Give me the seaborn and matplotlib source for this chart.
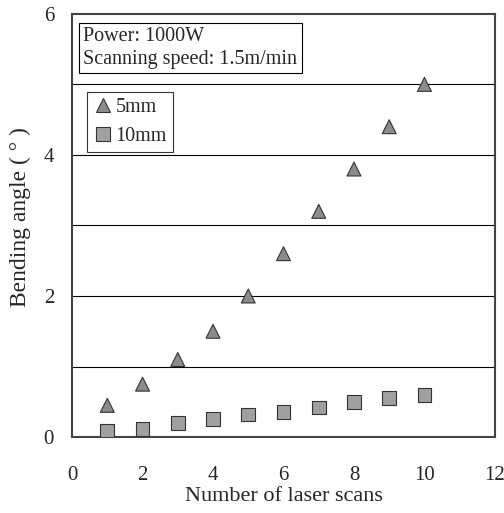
import pandas as pd
import matplotlib
matplotlib.use('Agg')
import matplotlib.pyplot as plt
import seaborn as sns

# values
scans = [1, 2, 3, 4, 5, 6, 7, 8, 9, 10]
angle_5mm = [0.45, 0.75, 1.1, 1.5, 2.0, 2.6, 3.2, 3.8, 4.4, 5.0]
angle_10mm = [0.08, 0.12, 0.2, 0.25, 0.32, 0.35, 0.42, 0.5, 0.55, 0.6]
x_ticks = [0, 2, 4, 6, 8, 10, 12]
y_ticks = [0, 2, 4, 6]

df = pd.DataFrame({
    'scans': scans * 2,
    'angle': angle_5mm + angle_10mm,
    'width': ['5mm'] * len(scans) + ['10mm'] * len(scans),
})

sns.set_style('white')
plt.rcParams['font.family'] = ['Liberation Serif', 'DejaVu Serif']

fig = plt.figure(figsize=(5.04, 5.13), dpi=100)
ax = fig.add_axes([0.143, 0.148, 0.839, 0.825])

for y in [1, 2, 3, 4, 5]:
    ax.axhline(y, color='black', lw=0.8, zorder=0)

sns.scatterplot(data=df, x='scans', y='angle', hue='width', style='width',
                markers={'5mm': '^', '10mm': 's'},
                palette={'5mm': '#8c8c8c', '10mm': '#a0a0a0'},
                edgecolor='#333333', linewidth=0.8, s=100, ax=ax, zorder=3)

ax.set_xlim(0, 12)
ax.set_ylim(0, 6)
ax.set_xticks(x_ticks)
ax.set_yticks(y_ticks)
ax.tick_params(axis='x', direction='in', length=4, pad=21, labelsize=15)
ax.tick_params(axis='y', direction='in', length=0, pad=13, labelsize=15)
for s in ax.spines.values():
    s.set_color('#444444')
    s.set_linewidth(1.5)

ax.set_xlabel('Number of laser scans', fontsize=16, labelpad=1)
ax.set_ylabel('Bending angle ( ° )', fontsize=17)
ax.yaxis.set_label_coords(-0.097, 0.52)

leg = ax.legend(loc='upper left', bbox_to_anchor=(0.036, 0.815), fontsize=14.5,
                frameon=True, fancybox=False, edgecolor='black',
                handletextpad=0.1, borderpad=0.3, labelspacing=0.5,
                handlelength=1.0, borderaxespad=0)
leg.get_frame().set_linewidth(0.8)

ax.text(0.027, 0.968, 'Power: 1000W\nScanning speed: 1.5m/min',
        transform=ax.transAxes, ha='left', va='top', fontsize=14.5,
        linespacing=1.25,
        bbox=dict(boxstyle='square,pad=0.2', fc='white', ec='black', lw=0.8))

fig.savefig('out.png', dpi=100)
